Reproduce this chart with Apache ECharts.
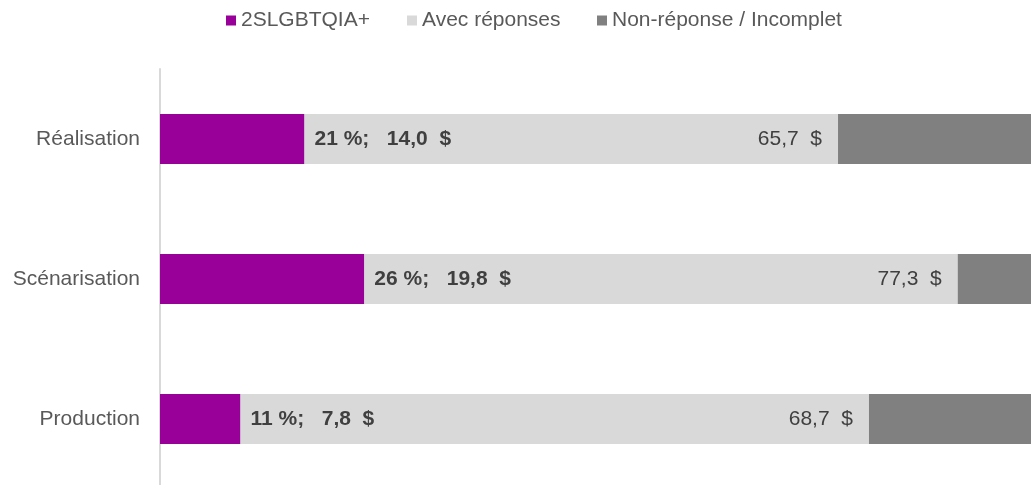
<!DOCTYPE html>
<html>
<head>
<meta charset="utf-8">
<script src="https://cdn.jsdelivr.net/npm/echarts@6/dist/echarts.min.js"></script>
<style>
  html, body { margin: 0; padding: 0; background: #fff; }
  #chart { width: 1031px; height: 485px; }
</style>
</head>
<body>
<div id="chart"></div>
<script>
// categories top to bottom
const categories = ['Réalisation', 'Scénarisation', 'Production'];
// share of 2SLGBTQIA+ (%)
const pct = [21, 26, 11];
// amounts in M$
const lgbtq = [14.0, 19.8, 7.8];
const avecTotal = [65.7, 77.3, 68.7];
const total = 84.4; // bars run off the right edge
const avecRest = avecTotal.map((v, i) => +(v - lgbtq[i]).toFixed(1));
const nonRep = avecTotal.map(v => +(total - v).toFixed(1));

const fr = v => v.toFixed(1).replace('.', ',');

let myChart = echarts.init(document.getElementById('chart'));
const legendText = { fontFamily: 'Liberation Sans', fontSize: 21, color: '#595959' };
const legendBase = { top: 10, padding: 0, icon: 'rect', itemWidth: 10, itemHeight: 10, textStyle: legendText };
myChart.setOption({
  textStyle: { fontFamily: 'Liberation Sans' },
  legend: [
    Object.assign({ data: ['2SLGBTQIA+'], left: 226 }, legendBase),
    Object.assign({ data: ['Avec réponses'], left: 407 }, legendBase),
    Object.assign({ data: ['Non-réponse / Incomplet'], left: 597 }, legendBase)
  ],
  grid: { left: 160, right: 0, top: 69, height: 420, outerBoundsMode: 'none' },
  xAxis: {
    type: 'value',
    min: 0,
    max: total,
    show: false
  },
  yAxis: {
    type: 'category',
    inverse: true,
    data: categories,
    axisTick: { show: false },
    axisLine: { lineStyle: { color: '#d9d9d9', width: 2 } },
    axisLabel: { fontSize: 21, color: '#595959', margin: 20 }
  },
  series: [
    {
      name: '2SLGBTQIA+',
      type: 'bar',
      stack: 'a',
      barWidth: 50,
      itemStyle: { color: '#990099' },
      label: {
        show: true,
        position: 'right',
        distance: 10,
        fontSize: 21,
        fontWeight: 'bold',
        color: '#404040',
        formatter: p => pct[p.dataIndex] + ' %;   ' + fr(p.value) + '  $'
      },
      data: lgbtq
    },
    {
      name: 'Avec réponses',
      type: 'bar',
      stack: 'a',
      itemStyle: { color: '#d9d9d9' },
      label: {
        show: true,
        position: 'insideRight',
        distance: 16,
        fontSize: 21,
        color: '#404040',
        formatter: p => fr(avecTotal[p.dataIndex]) + '  $'
      },
      data: avecRest
    },
    {
      name: 'Non-réponse / Incomplet',
      type: 'bar',
      stack: 'a',
      itemStyle: { color: '#808080' },
      data: nonRep
    }
  ]
});
</script>
</body>
</html>
